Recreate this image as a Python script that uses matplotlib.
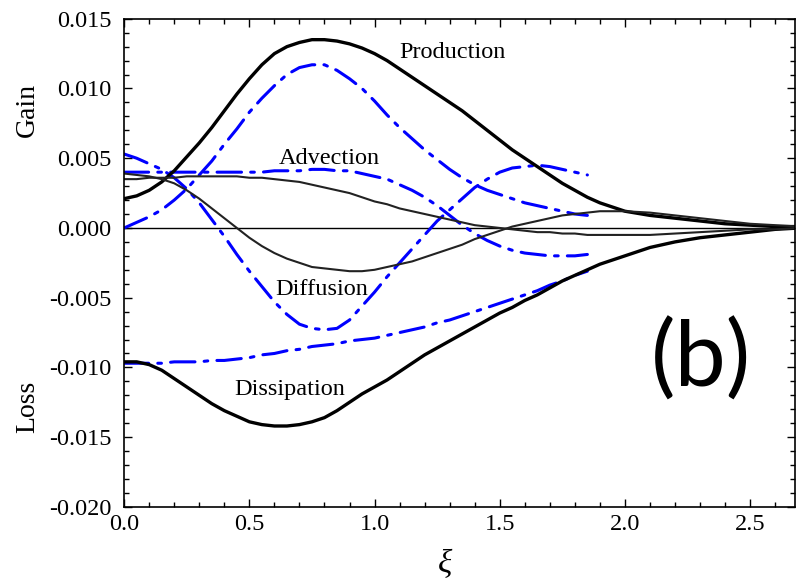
import numpy as np
import matplotlib
matplotlib.use("Agg")
import matplotlib.pyplot as plt
from matplotlib.ticker import MultipleLocator, FormatStrFormatter

plt.rcParams['font.family'] = ['Liberation Serif', 'DejaVu Serif']
plt.rcParams['axes.unicode_minus'] = False

# xi samples (black curves run to the edge, blue ones stop ~1.85)
xi = [0.0, 0.05, 0.1, 0.15, 0.2, 0.25, 0.3, 0.35, 0.4, 0.45,
      0.5, 0.55, 0.6, 0.65, 0.7, 0.75, 0.8, 0.85, 0.9, 0.95,
      1.0, 1.05, 1.1, 1.15, 1.2, 1.25, 1.3, 1.35, 1.4, 1.45,
      1.5, 1.55, 1.6, 1.65, 1.7, 1.75, 1.8, 1.85, 1.9, 1.95,
      2.0, 2.1, 2.2, 2.3, 2.4, 2.5, 2.6, 2.7]
xi_b = xi[:38]

# black solid curves
production = [0.0021, 0.0023, 0.0027, 0.0033, 0.0041, 0.0051, 0.0061, 0.0072, 0.0084, 0.0096,
              0.0107, 0.0117, 0.0125, 0.0130, 0.0133, 0.0135, 0.0135, 0.0134, 0.0132, 0.0129,
              0.0125, 0.0120, 0.0114, 0.0108, 0.0102, 0.0096, 0.0090, 0.0084, 0.0077, 0.0070,
              0.0063, 0.0056, 0.0050, 0.0044, 0.0038, 0.0032, 0.0027, 0.0022, 0.0018, 0.0015,
              0.0012, 0.0009, 0.0007, 0.0005, 0.0003, 0.0002, 0.0001, 0.0001]
advection = [0.0035, 0.0035, 0.0036, 0.0036, 0.0036, 0.0037, 0.0037, 0.0037, 0.0037, 0.0037,
             0.0036, 0.0036, 0.0035, 0.0034, 0.0033, 0.0031, 0.0029, 0.0027, 0.0025, 0.0022,
             0.0019, 0.0017, 0.0014, 0.0012, 0.0010, 0.0008, 0.0006, 0.0004, 0.0002, 0.0001,
             0.0000, -0.0001, -0.0002, -0.0003, -0.0003, -0.0004, -0.0004, -0.0005, -0.0005, -0.0005,
             -0.0005, -0.0005, -0.0004, -0.0003, -0.0002, -0.0001, -0.0001, 0.0]
diffusion = [0.0039, 0.0038, 0.0037, 0.0035, 0.0032, 0.0027, 0.0021, 0.0014, 0.0007, 0.0000,
             -0.0007, -0.0013, -0.0018, -0.0022, -0.0025, -0.0028, -0.0029, -0.0030, -0.0031, -0.0031,
             -0.0030, -0.0028, -0.0026, -0.0024, -0.0021, -0.0018, -0.0015, -0.0012, -0.0008, -0.0005,
             -0.0002, 0.0001, 0.0003, 0.0005, 0.0007, 0.0009, 0.0010, 0.0011, 0.0012, 0.0012,
             0.0012, 0.0011, 0.0009, 0.0007, 0.0005, 0.0003, 0.0002, 0.0001]
dissipation = [-0.0096, -0.0096, -0.0098, -0.0102, -0.0108, -0.0114, -0.0120, -0.0126, -0.0131, -0.0135,
               -0.0139, -0.0141, -0.0142, -0.0142, -0.0141, -0.0139, -0.0136, -0.0131, -0.0125, -0.0119,
               -0.0114, -0.0109, -0.0103, -0.0097, -0.0091, -0.0086, -0.0081, -0.0076, -0.0071, -0.0066,
               -0.0061, -0.0057, -0.0052, -0.0048, -0.0043, -0.0038, -0.0034, -0.0030, -0.0026, -0.0023,
               -0.0020, -0.0014, -0.0010, -0.0007, -0.0005, -0.0003, -0.0001, 0.0]

# blue dash-dot curves
production_b = [0.0, 0.0004, 0.0008, 0.0013, 0.0020, 0.0028, 0.0038, 0.0048, 0.0060, 0.0071,
                0.0083, 0.0093, 0.0102, 0.0110, 0.0115, 0.0117, 0.0117, 0.0113, 0.0107, 0.0100,
                0.0091, 0.0081, 0.0072, 0.0064, 0.0056, 0.0049, 0.0042, 0.0036, 0.0031, 0.0027,
                0.0024, 0.0021, 0.0018, 0.0016, 0.0014, 0.0012, 0.0010, 0.0009]
advection_b = [0.0040, 0.0040, 0.0040, 0.0040, 0.0040, 0.0040, 0.0040, 0.0040, 0.0040, 0.0040,
               0.0040, 0.0040, 0.0041, 0.0041, 0.0041, 0.0042, 0.0042, 0.0041, 0.0041, 0.0039,
               0.0037, 0.0035, 0.0031, 0.0027, 0.0022, 0.0016, 0.0009, 0.0002, -0.0004, -0.0009,
               -0.0013, -0.0016, -0.0018, -0.0019, -0.0020, -0.0020, -0.0020, -0.0019]
diffusion_b = [0.0053, 0.0050, 0.0046, 0.0042, 0.0036, 0.0028, 0.0018, 0.0006, -0.0006, -0.0019,
               -0.0031, -0.0042, -0.0053, -0.0062, -0.0069, -0.0072, -0.0073, -0.0072, -0.0066, -0.0056,
               -0.0046, -0.0035, -0.0025, -0.0015, -0.0005, 0.0005, 0.0013, 0.0021, 0.0029, 0.0035,
               0.0040, 0.0043, 0.0044, 0.0045, 0.0044, 0.0042, 0.0040, 0.0038]
dissipation_b = [-0.0097, -0.0097, -0.0097, -0.0097, -0.0096, -0.0096, -0.0096, -0.0095, -0.0095, -0.0094,
                 -0.0093, -0.0091, -0.0090, -0.0088, -0.0087, -0.0085, -0.0084, -0.0083, -0.0081, -0.0080,
                 -0.0079, -0.0077, -0.0075, -0.0073, -0.0071, -0.0068, -0.0066, -0.0063, -0.0060, -0.0057,
                 -0.0054, -0.0051, -0.0048, -0.0045, -0.0041, -0.0038, -0.0034, -0.0031]

fig = plt.figure(figsize=(7.96, 5.86), dpi=100)
ax = fig.add_axes([0.156, 0.135, 0.843, 0.833])

ax.axhline(0, color='black', lw=1.0)

dashdot = (0, (8, 3, 1.2, 3))
for yb in [production_b, advection_b, diffusion_b, dissipation_b]:
    ax.plot(xi_b, yb, color='#0000ff', lw=2.2, linestyle=dashdot,
            dash_capstyle='round', solid_joinstyle='round')

for yk in [production, dissipation]:
    ax.plot(xi, yk, color='black', lw=2.4, solid_joinstyle='round')
for yk in [advection, diffusion]:
    ax.plot(xi, yk, color='#222222', lw=1.5, solid_joinstyle='round')

ax.text(1.31, 0.0122, 'Production', fontsize=17.5, ha='center', va='baseline')
ax.text(0.82, 0.0046, 'Advection', fontsize=17.5, ha='center', va='baseline')
ax.text(0.787, -0.0048, 'Diffusion', fontsize=17.5, ha='center', va='baseline')
ax.text(0.663, -0.01195, 'Dissipation', fontsize=17.5, ha='center', va='baseline')

ax.text(0.86, 0.30, '(b)', transform=ax.transAxes, fontsize=66,
        family='Lato', ha='center', va='center')

ax.set_xlim(0, 2.68)
ax.set_ylim(-0.020, 0.015)
ax.xaxis.set_major_locator(MultipleLocator(0.5))
ax.xaxis.set_minor_locator(MultipleLocator(0.1))
ax.yaxis.set_major_locator(MultipleLocator(0.005))
ax.yaxis.set_minor_locator(MultipleLocator(0.001))
ax.xaxis.set_major_formatter(FormatStrFormatter('%.1f'))
ax.yaxis.set_major_formatter(FormatStrFormatter('%.3f'))

ax.tick_params(which='both', direction='in', top=True, right=True,
               labelsize=17.5, width=1.0)
ax.tick_params(which='major', length=6)
ax.tick_params(which='minor', length=3.5)
ax.tick_params(axis='x', pad=5)
ax.tick_params(axis='y', pad=9)
for s in ax.spines.values():
    s.set_linewidth(1.2)

fig.text(0.035, 0.812, 'Gain', rotation=90, fontsize=20, ha='center', va='center')
fig.text(0.035, 0.305, 'Loss', rotation=90, fontsize=20, ha='center', va='center')
fig.text(0.559, 0.036, 'ξ', fontsize=24, style='italic', ha='center', va='center')

fig.savefig('out.png', dpi=100)
